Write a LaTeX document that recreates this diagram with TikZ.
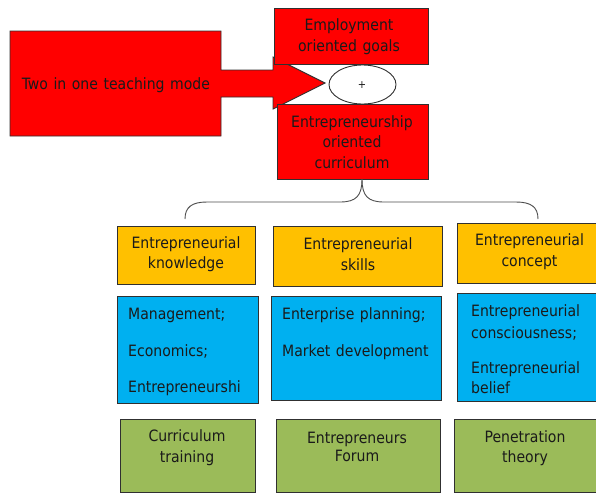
\documentclass[tikz,border=0pt]{standalone}
\usepackage{fontspec}
\setmainfont{DejaVu Sans Condensed}[WordSpace={1.25,0.5,0.3}]
\usetikzlibrary{shapes.geometric}
\definecolor{redfill}{HTML}{FF0000}
\definecolor{goldfill}{HTML}{FFC000}
\definecolor{skyfill}{HTML}{00B0F0}
\definecolor{olivefill}{HTML}{9BBB59}
\definecolor{edge}{HTML}{303030}
\definecolor{ink}{HTML}{1A1A1A}
\begin{document}
\begin{tikzpicture}[x=1pt,y=-1pt,
  box/.style={draw=edge,line width=0.9pt,inner sep=0pt,rectangle},
  redbox/.style={box,fill=redfill},
  goldbox/.style={box,fill=goldfill},
  skybox/.style={box,fill=skyfill},
  olivebox/.style={box,fill=olivefill},
  txt/.style={inner sep=0pt,align=center,text=ink,font=\fontsize{15.6}{20.5}\selectfont},
  line/.style={inner sep=0pt,anchor=west,text=ink,text height=11pt,text depth=3pt,font=\fontsize{15.6}{20.5}\selectfont},
  brace/.style={draw=black!70,line width=0.9pt}]
\useasboundingbox (0,0) rectangle (596,493);
\clip (0,0) rectangle (596,493);

% block arrow for the teaching mode
\draw[fill=redfill,draw=edge,line width=0.9pt]
  (10,31) -- (221,31) -- (221,70) -- (273,70) -- (273,57) -- (325,83)
  -- (273,109) -- (273,97) -- (221,97) -- (221,136) -- (10,136) -- cycle;
\node[txt] (mode) at (116,85) {Two in one teaching mode};

% goals, combination sign and curriculum
\node[redbox,minimum width=154pt,minimum height=56pt] (goals) at (351,36) {};
\node[txt] (goalst) at (349,36.5) {Employment\\oriented goals};
\node[draw=edge,line width=0.9pt,fill=white,ellipse,minimum width=67pt,minimum height=39pt,inner sep=0pt] (plus) at (362.5,84.5) {};
\node[inner sep=0pt,text=ink,font=\fontsize{11}{13}\selectfont] (plust) at (362,85) {+};
\node[redbox,minimum width=151pt,minimum height=75pt] (curr) at (352.5,141.5) {};
\node[txt] (currt) at (352,142) {Entrepreneurship\\oriented\\curriculum};

% three dimensions
\node[goldbox,minimum width=138pt,minimum height=58pt] (know) at (186,255) {};
\node[txt] (knowt) at (186,254) {Entrepreneurial\\knowledge};
\node[goldbox,minimum width=169pt,minimum height=60pt] (skill) at (357.5,256) {};
\node[txt] (skillt) at (358,254) {Entrepreneurial\\skills};
\node[goldbox,minimum width=145pt,minimum height=60pt] (conc) at (529.5,253) {};
\node[txt] (conct) at (529.5,251.5) {Entrepreneurial\\concept};

% brace from the curriculum to the three dimensions
\coordinate (bt) at (362,179);
\coordinate (bl) at (185,219);
\coordinate (br) at (538,219);
\draw[brace] (bt) .. controls (362,196) and (356,202) .. (340,202) -- (207,202)
  .. controls (192,202) and (185,207) .. (bl);
\draw[brace] (bt) .. controls (362,196) and (368,202) .. (384,202) -- (516,202)
  .. controls (531,202) and (538,207) .. (br);

% contents
\node[skybox,minimum width=141pt,minimum height=107pt] (kc) at (187.5,349.5) {};
\node[line] (kc1) at (128,315) {Management;};
\node[line] (kc2) at (128,352) {Economics;};
\node[line] (kc3) at (128,388) {Entrepreneurshi};
\node[skybox,minimum width=170pt,minimum height=104pt] (sc) at (356,348) {};
\node[line] (sc1) at (282,315) {Enterprise planning;};
\node[line] (sc2) at (282,352) {Market development};
\node[skybox,minimum width=145pt,minimum height=108pt] (cc) at (529.5,347) {};
\node[line] (cc1) at (471,312) {Entrepreneurial};
\node[line] (cc2) at (471,334) {consciousness;};
\node[line] (cc3) at (471,369) {Entrepreneurial};
\node[line] (cc4) at (471,389) {belief};

% ways of delivery
\node[olivebox,minimum width=135pt,minimum height=73pt] (kw) at (187.5,455.5) {};
\node[txt] (kwt) at (187,447.5) {Curriculum\\training};
\node[olivebox,minimum width=164pt,minimum height=73pt] (sw) at (358,455.5) {};
\node[txt,font=\fontsize{15.6}{18.5}\selectfont] (swt) at (357,447) {Entrepreneurs\\Forum};
\node[olivebox,minimum width=146pt,minimum height=73pt] (cw) at (527,455.5) {};
\node[txt] (cwt) at (525,448) {Penetration\\theory};
\end{tikzpicture}
\end{document}
